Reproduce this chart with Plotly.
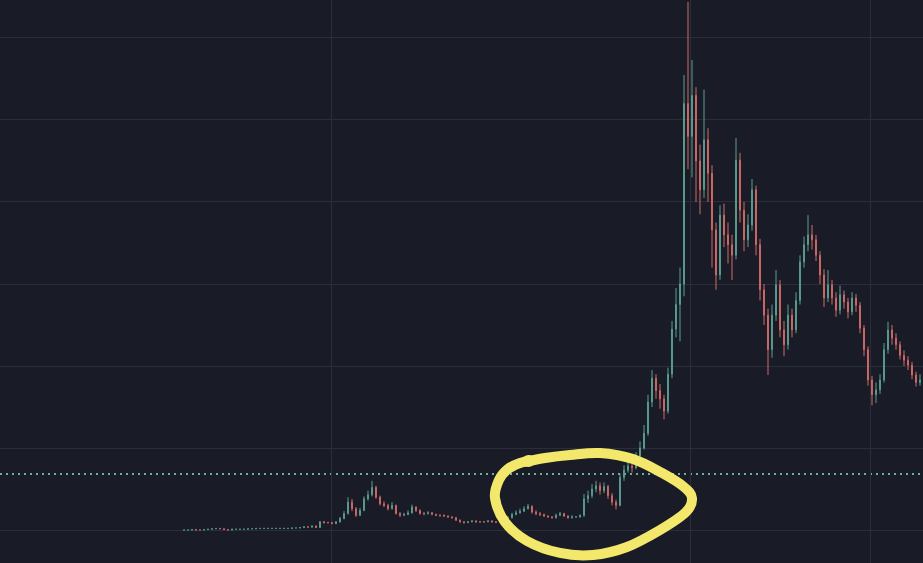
import plotly.graph_objects as go

# ---- data (price units) ----
opens = [
    0.0, 0.0, 0.0, 0.05, 0.0, 0.0, 0.05, 0.1, 0.15, 0.2, 0.15, 0.05, 0.0, 0.1, 0.1, 0.1, 0.1,
    0.15, 0.15, 0.2, 0.2, 0.2, 0.2, 0.2, 0.2, 0.2, 0.2, 0.2, 0.25, 0.25, 0.3, 0.4, 0.35, 0.5,
    0.3, 1.0, 0.9, 0.9, 0.8, 1.0, 1.4, 2.0, 3.4, 2.6,
    1.8, 2.4, 3.8, 4.3, 5.2, 4.0, 3.2, 3.0, 2.6, 3.0,
    2.0, 1.8, 1.9, 2.1, 2.8, 2.4, 2.0, 2.0, 2.1, 1.9,
    1.8, 1.8, 1.7, 1.6, 1.5, 1.2, 1.0, 0.9, 1.0, 1.1,
    1.0, 1.0, 1.0, 1.1, 1.0, 0.95, 1.0, 1.3, 1.5, 1.9,
    2.1, 2.3, 2.6, 2.9, 2.2, 2.0, 1.9, 1.7, 1.6, 1.5,
    1.8, 2.0, 1.7, 1.5, 1.6, 1.6,
    1.8, 3.8, 4.2, 5.0, 5.4, 4.8, 5.3, 4.2, 3.4, 3.0, 6.4, 7.3, 7.8, 7.6, 9.0, 10.0, 11.8,
    15.6, 18.5, 17.0, 16.0, 14.5, 19.0, 24.5, 27.5,
    30.0, 52.0, 48.0, 53.0, 45.0, 41.5, 47.6, 43.5, 36.6, 31.1,
    38.4, 36.0, 34.8, 33.5, 45.1, 39.0, 35.4, 37.2, 41.5, 34.8,
    29.3, 26.2, 22.0, 26.2, 29.9, 24.4, 22.6, 26.2, 24.4, 28.0,
    32.7, 34.8, 36.0, 35.4, 33.5, 31.1, 28.3, 29.9, 28.3, 26.8,
    28.7, 27.8, 26.6, 28.3, 27.4, 24.6, 22.0, 18.3, 16.5, 17.1,
    18.3, 22.0, 24.4, 23.4, 22.6, 21.3, 20.7, 20.1, 18.9, 18.0,
]
closes = [
    0.0, 0.0, 0.05, 0.0, 0.0, 0.05, 0.1, 0.15, 0.2, 0.15, 0.05, 0.0, 0.1, 0.1, 0.1, 0.1, 0.15,
    0.15, 0.2, 0.2, 0.2, 0.2, 0.2, 0.2, 0.2, 0.2, 0.2, 0.25, 0.25, 0.3, 0.4, 0.35, 0.5, 0.3,
    1.0, 0.9, 0.9, 0.8, 1.0, 1.4, 2.0, 3.4, 2.6, 1.8,
    2.4, 3.8, 4.3, 5.2, 4.0, 3.2, 3.0, 2.6, 3.0, 2.0,
    1.8, 1.9, 2.1, 2.8, 2.4, 2.0, 2.0, 2.1, 1.9, 1.8,
    1.8, 1.7, 1.6, 1.5, 1.2, 1.0, 0.9, 1.0, 1.1, 1.0,
    1.0, 1.0, 1.1, 1.0, 0.95, 1.0, 1.3, 1.5, 1.9, 2.1,
    2.3, 2.6, 2.9, 2.2, 2.0, 1.9, 1.7, 1.6, 1.5, 1.8,
    2.0, 1.7, 1.5, 1.6, 1.6, 1.8,
    3.8, 4.2, 5.0, 5.4, 4.8, 5.3, 4.2, 3.4, 3.0, 6.4, 7.3, 7.8, 7.6, 9.0, 10.0, 11.8, 15.6,
    18.5, 17.0, 16.0, 14.5, 19.0, 24.5, 27.5, 30.0,
    52.0, 48.0, 53.0, 45.0, 41.5, 47.6, 43.5, 36.6, 31.1, 38.4,
    36.0, 34.8, 33.5, 45.1, 39.0, 35.4, 37.2, 41.5, 34.8, 29.3,
    26.2, 22.0, 26.2, 29.9, 24.4, 22.6, 26.2, 24.4, 28.0, 32.7,
    34.8, 36.0, 35.4, 33.5, 31.1, 28.3, 29.9, 28.3, 26.8, 28.7,
    27.8, 26.6, 28.3, 27.4, 24.6, 22.0, 18.3, 16.5, 17.1, 18.3,
    22.0, 24.4, 23.4, 22.6, 21.3, 20.7, 20.1, 18.9, 18.0, 18.3,
]
highs = [
    0.05, 0.05, 0.1, 0.1, 0.05, 0.1, 0.15, 0.2, 0.25, 0.25, 0.2, 0.1, 0.15, 0.15, 0.15, 0.15, 0.2,
    0.2, 0.25, 0.25, 0.25, 0.25, 0.25, 0.25, 0.25, 0.25, 0.25, 0.3, 0.3, 0.35, 0.45, 0.45, 0.55, 0.55,
    1.1, 1.1, 1.0, 1.0, 1.1, 1.6, 2.3, 4.0, 3.8, 2.8,
    2.7, 4.1, 4.8, 6.0, 5.4, 4.2, 3.5, 3.2, 3.4, 3.1,
    2.2, 2.1, 2.4, 3.1, 2.9, 2.5, 2.2, 2.3, 2.2, 2.0,
    1.9, 1.9, 1.8, 1.7, 1.6, 1.3, 1.1, 1.1, 1.2, 1.2,
    1.1, 1.1, 1.2, 1.2, 1.1, 1.1, 1.4, 1.7, 2.1, 2.4,
    2.6, 2.9, 3.2, 3.0, 2.4, 2.2, 2.0, 1.8, 1.7, 2.0,
    2.2, 2.1, 1.8, 1.8, 1.7, 1.9,
    4.4, 4.8, 5.6, 6.0, 5.8, 5.8, 5.5, 4.5, 3.7, 6.9, 7.9, 8.4, 8.3, 9.5, 10.8, 12.8, 16.5,
    19.5, 19.0, 17.8, 16.5, 19.8, 25.5, 29.5, 32.0,
    55.5, 64.4, 57.3, 54.0, 47.0, 53.7, 49.0, 44.5, 37.5, 39.6,
    39.8, 37.5, 36.0, 47.8, 46.0, 40.0, 38.5, 42.8, 42.0, 35.5,
    30.0, 27.0, 27.5, 31.7, 30.5, 25.5, 27.5, 27.0, 29.0, 33.5,
    35.8, 38.4, 37.2, 36.0, 34.0, 31.8, 31.7, 30.5, 29.0, 29.8,
    29.2, 28.3, 29.0, 28.8, 27.8, 25.0, 22.4, 18.8, 18.0, 19.0,
    22.8, 25.4, 25.0, 24.0, 23.0, 21.9, 21.2, 20.5, 19.3, 19.0,
]
lows = [
    -0.05, -0.05, -0.05, -0.05, -0.05, -0.05, 0.0, 0.05, 0.1, 0.1, 0.0, -0.05, -0.05, 0.05, 0.05, 0.05, 0.05,
    0.1, 0.1, 0.15, 0.15, 0.15, 0.15, 0.15, 0.15, 0.15, 0.15, 0.15, 0.2, 0.2, 0.25, 0.3, 0.3, 0.25,
    0.25, 0.8, 0.8, 0.7, 0.7, 0.9, 1.3, 1.9, 2.3, 1.6,
    1.7, 2.3, 3.6, 4.1, 3.8, 3.0, 2.8, 2.4, 2.5, 1.9,
    1.6, 1.7, 1.8, 2.0, 2.2, 1.9, 1.8, 1.9, 1.8, 1.7,
    1.6, 1.6, 1.5, 1.4, 1.1, 0.9, 0.8, 0.85, 0.95, 0.9,
    0.9, 0.9, 0.95, 0.9, 0.85, 0.9, 0.95, 1.2, 1.4, 1.8,
    2.0, 2.2, 2.5, 2.0, 1.8, 1.7, 1.6, 1.5, 1.4, 1.4,
    1.7, 1.6, 1.4, 1.4, 1.5, 1.5,
    1.6, 3.3, 3.9, 4.6, 4.3, 4.5, 3.8, 3.0, 2.5, 2.9, 6.0, 7.0, 7.0, 7.4, 8.8, 9.8, 11.5,
    15.0, 16.0, 14.8, 13.5, 14.2, 18.5, 23.5, 23.0,
    28.5, 44.0, 43.0, 40.0, 38.5, 40.5, 40.0, 32.0, 29.3, 30.5,
    34.5, 32.5, 30.5, 33.0, 37.5, 34.0, 34.5, 36.5, 33.5, 28.0,
    25.0, 18.9, 21.0, 25.5, 23.5, 21.2, 22.0, 23.5, 24.0, 27.5,
    32.0, 34.0, 34.2, 32.8, 30.0, 27.2, 27.8, 27.5, 26.0, 26.3,
    27.0, 25.8, 26.2, 26.6, 24.0, 21.2, 17.6, 15.2, 15.5, 16.6,
    18.0, 21.5, 22.6, 22.0, 20.8, 20.0, 19.5, 18.4, 17.5, 17.6,
]
candle_index = list(range(len(closes)))
reference_level = 6.83          # dotted horizontal level
price_gridlines = [0, 10, 20, 30, 40, 50, 60]
time_gridlines = [36.75, 126.5, 171.5]

# ---- styling ----
W, H = 923, 563
BG = "#191c26"
GRID = "#2a2e3b"
UP = "#5b9f92"
DOWN = "#d16b69"
YELLOW = "#f3e86b"

fig = go.Figure()
fig.add_trace(go.Candlestick(
    x=candle_index, open=opens, high=highs, low=lows, close=closes,
    increasing=dict(line=dict(color=UP, width=1), fillcolor=UP),
    decreasing=dict(line=dict(color=DOWN, width=1), fillcolor=DOWN),
    whiskerwidth=0, showlegend=False, hoverinfo="skip",
))

# dotted reference line
fig.add_shape(type="line", xref="paper", x0=0, x1=1, yref="y",
              y0=reference_level, y1=reference_level,
              line=dict(color="#6aaea4", width=2, dash="2px,4px"), layer="below")


# hand-drawn yellow loop (pixel points -> smooth path in paper coords)
def smooth_path(pts):
    P = [(x / W, 1 - y / H) for x, y in pts]
    P = [P[0]] + P + [P[-1]]
    d = f"M {P[1][0]:.4f},{P[1][1]:.4f}"
    for i in range(1, len(P) - 2):
        p0, p1, p2, p3 = P[i - 1], P[i], P[i + 1], P[i + 2]
        c1 = (p1[0] + (p2[0] - p0[0]) / 6, p1[1] + (p2[1] - p0[1]) / 6)
        c2 = (p2[0] - (p3[0] - p1[0]) / 6, p2[1] - (p3[1] - p1[1]) / 6)
        d += f" C {c1[0]:.4f},{c1[1]:.4f} {c2[0]:.4f},{c2[1]:.4f} {p2[0]:.4f},{p2[1]:.4f}"
    return d


loop_pts = [(524, 462), (545, 458), (570, 455), (600, 453), (633, 459), (662, 473),
            (684, 487), (692, 498), (686, 512), (660, 530), (627, 547), (593, 555),
            (560, 553), (527, 541), (505, 522), (495, 498), (499, 480), (508, 469),
            (520, 463), (532, 460)]
fig.add_shape(type="path", xref="paper", yref="paper", path=smooth_path(loop_pts),
              line=dict(color=YELLOW, width=10), fillcolor="rgba(0,0,0,0)")
fig.add_shape(type="circle", xref="paper", yref="paper",
              x0=522 / W, x1=535 / W, y0=1 - 467 / H, y1=1 - 455 / H,
              fillcolor=YELLOW, line=dict(width=0))

fig.update_layout(
    width=W, height=H,
    margin=dict(l=0, r=0, t=0, b=0),
    paper_bgcolor=BG, plot_bgcolor=BG,
    showlegend=False,
    boxgap=0.7,
    xaxis=dict(range=[-46, 184.75], showticklabels=False, showgrid=True,
               gridcolor=GRID, gridwidth=1, tickmode="array", tickvals=time_gridlines,
               zeroline=False, rangeslider=dict(visible=False), fixedrange=True),
    yaxis=dict(range=[-4.02, 64.63], showticklabels=False, showgrid=True,
               gridcolor=GRID, gridwidth=1, tickmode="array", tickvals=price_gridlines,
               zeroline=False, fixedrange=True),
)

fig.write_html("out.html", config={"displayModeBar": False},
               post_script="document.body.style.margin='0';document.body.style.background='" + BG + "';")
